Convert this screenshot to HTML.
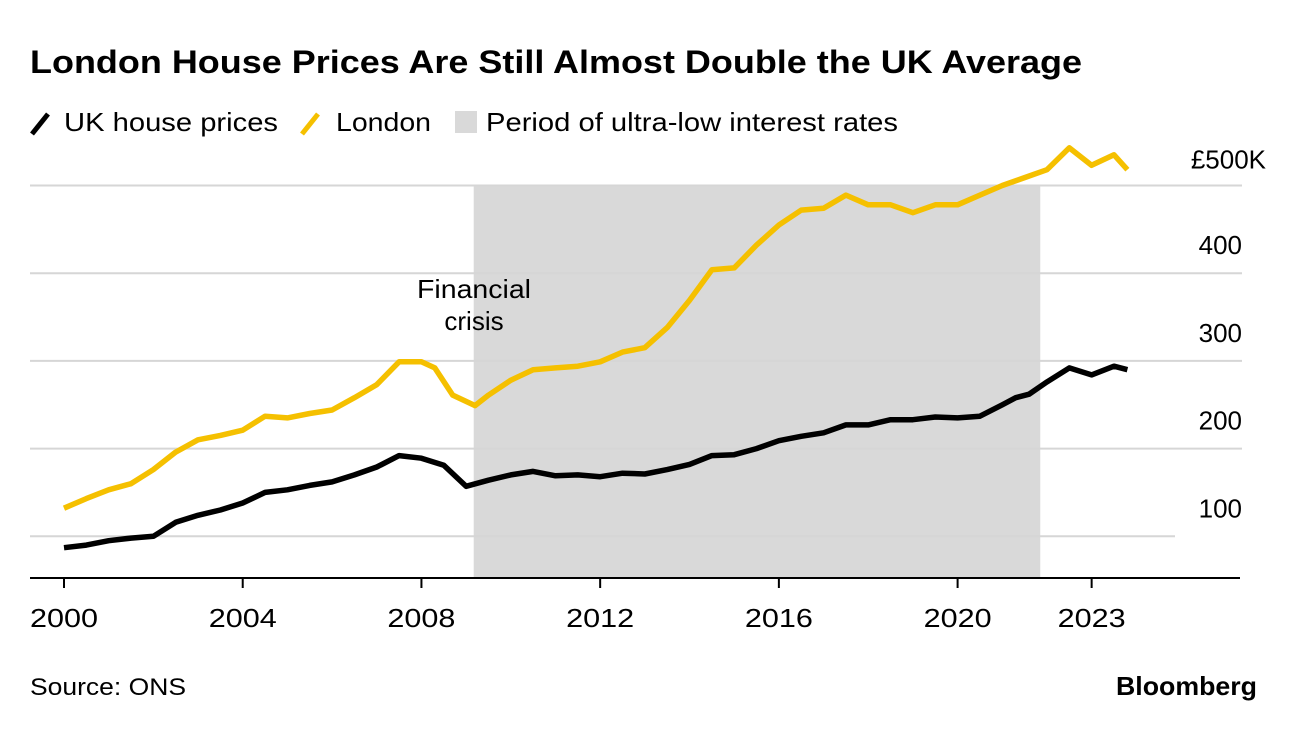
<!DOCTYPE html>
<html><head><meta charset="utf-8"><style>
body{margin:0;background:#fff;font-family:"Liberation Sans",sans-serif;}
svg text{font-family:"Liberation Sans",sans-serif;}
</style></head><body>
<svg width="1296" height="728">
<text x="30" y="73" font-size="32" font-weight="bold" fill="#000" textLength="1052" lengthAdjust="spacingAndGlyphs">London House Prices Are Still Almost Double the UK Average</text>
<g>
<line x1="32" y1="134" x2="48" y2="114" stroke="#000" stroke-width="5"/>
<text x="64" y="131" font-size="26" textLength="214" lengthAdjust="spacingAndGlyphs">UK house prices</text>
<line x1="302" y1="134" x2="318" y2="114" stroke="#f5c000" stroke-width="5"/>
<text x="336" y="131" font-size="26" textLength="95" lengthAdjust="spacingAndGlyphs">London</text>
<rect x="455" y="111" width="22" height="22" fill="#d9d9d9"/>
<text x="486" y="131" font-size="26" textLength="412" lengthAdjust="spacingAndGlyphs">Period of ultra-low interest rates</text>
</g>
<g id="plot"></g>
<text x="417" y="298" font-size="26" textLength="114" lengthAdjust="spacingAndGlyphs">Financial</text>
<text x="474" y="330" font-size="26" text-anchor="middle">crisis</text>
<text x="30" y="695" font-size="24" textLength="156" lengthAdjust="spacingAndGlyphs">Source: ONS</text>
<text x="1116" y="695" font-size="26" font-weight="bold" textLength="141" lengthAdjust="spacingAndGlyphs">Bloomberg</text>
</svg>
<script>
const yTicks=[100,200,300,400,500];
const yTickLabels=["100","200","300","400","£500K"];
const xTicks=[2000,2004,2008,2012,2016,2020,2023];
const shade=[2009.17,2021.85];
const ukT=[2000,2000.5,2001,2001.5,2002,2002.5,2003,2003.5,2004,2004.5,2005,2005.5,2006,2006.5,2007,2007.5,2008,2008.5,2009,2009.5,2010,2010.5,2011,2011.5,2012,2012.5,2013,2013.5,2014,2014.5,2015,2015.5,2016,2016.5,2017,2017.5,2018,2018.5,2019,2019.5,2020,2020.5,2021,2021.3,2021.6,2022,2022.5,2023,2023.5,2023.8];
const ukV=[87,90,95,98,100,116,124,130,138,150,153,158,162,170,179,192,189,181,157,164,170,174,169,170,168,172,171,176,182,192,193,200,209,214,218,227,227,233,233,236,235,237,250,258,262,276,292,284,294,290];
const lnT=[2000,2000.5,2001,2001.5,2002,2002.5,2003,2003.5,2004,2004.5,2005,2005.5,2006,2006.5,2007,2007.5,2008,2008.3,2008.7,2009.2,2009.5,2010,2010.5,2011,2011.5,2012,2012.5,2013,2013.5,2014,2014.5,2015,2015.5,2016,2016.5,2017,2017.5,2018,2018.5,2019,2019.5,2020,2020.5,2021,2021.5,2022,2022.5,2023,2023.5,2023.8];
const lnV=[132,143,153,160,176,196,210,215,221,237,235,240,244,258,273,299,299,292,261,249,261,278,290,292,294,299,310,315,338,369,404,406,432,455,472,474,489,478,478,469,478,478,489,500,509,518,543,523,535,518];
const X=t=>64+(t-2000)*44.68, Y=v=>624-v*0.877;
const ns="http://www.w3.org/2000/svg", g=document.getElementById('plot');
function mk(tag,a){const e=document.createElementNS(ns,tag);for(const k in a)e.setAttribute(k,a[k]);g.appendChild(e);return e;}
let r=mk('rect',{x:X(shade[0]),y:185,width:X(shade[1])-X(shade[0]),height:393,fill:'#d9d9d9'});


yTicks.forEach((v,i)=>{
 let l=mk('line',{x1:30,x2:i==0?1175:1242,y1:Y(v),y2:Y(v),stroke:'#d6d6d6','stroke-width':2});
 
 
 let last=i==yTicks.length-1;
 let t=mk('text',{x:last?1266:1242,y:Y(v)-(last?17:19),'font-size':26,'text-anchor':'end'});t.textContent=yTickLabels[i];
 
 
});
let ax=mk('line',{x1:30,x2:1240,y1:578,y2:578,stroke:'#000','stroke-width':2});


xTicks.forEach(v=>{
 let l=mk('line',{x1:X(v),x2:X(v),y1:578,y2:588,stroke:'#000','stroke-width':2});
 
 
 let t=mk('text',{x:X(v),y:627,'font-size':26,'text-anchor':'middle',textLength:68,lengthAdjust:'spacingAndGlyphs'});t.textContent=v;
 
 
});
function line(T,V,c,n){let p=mk('path',{d:T.map((t,i)=>(i?'L':'M')+X(t).toFixed(1)+','+Y(V[i]).toFixed(1)).join(''),fill:'none',stroke:c,'stroke-width':5.5,'stroke-linejoin':'round'});
 
 }
line(lnT,lnV,'#f5c000','london-line');
line(ukT,ukV,'#000','uk-line');
</script>
</body></html>
